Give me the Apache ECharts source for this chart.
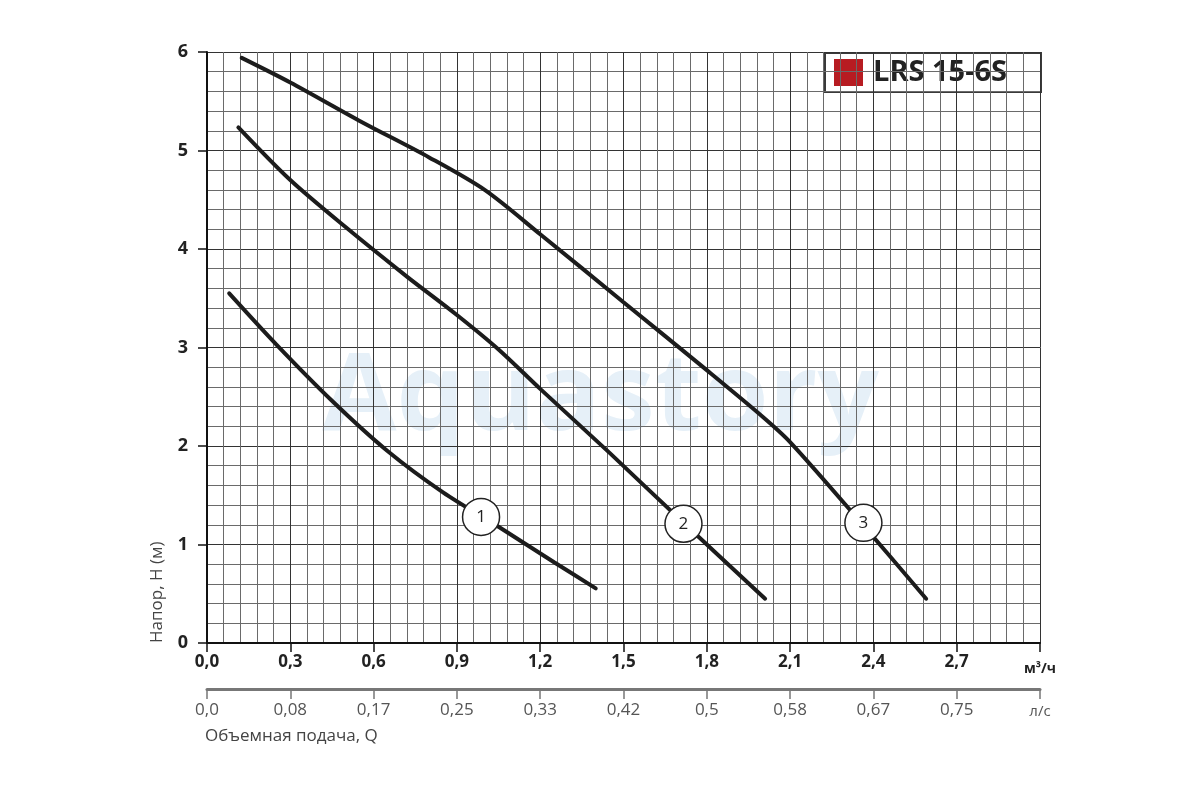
<!DOCTYPE html>
<html>
<head>
<meta charset="utf-8">
<title>LRS 15-6S</title>
<script src="https://cdn.jsdelivr.net/npm/echarts@6/dist/echarts.min.js"></script>
<style>
  html, body { margin: 0; padding: 0; background: #fff; }
  #chart { width: 1200px; height: 800px; }
</style>
</head>
<body>
<div id="chart"></div>
<script>
// pump curves, Q in m3/h, H in m
const curve1Q = [0.08, 0.25, 0.45, 0.65, 0.85, 1.05, 1.25, 1.4];
const curve1H = [3.55, 3.03, 2.46, 1.95, 1.53, 1.18, 0.82, 0.555];

const curve2Q = [0.113, 0.3, 0.5, 0.72, 0.9, 1.05, 1.2, 1.45, 1.72, 2.01];
const curve2H = [5.235, 4.7, 4.22, 3.72, 3.33, 2.98, 2.58, 1.93, 1.21, 0.45];

const curve3Q = [0.125, 0.3, 0.55, 0.8, 1.0, 1.2, 1.5, 1.8, 2.0, 2.1, 2.35, 2.59];
const curve3H = [5.94, 5.69, 5.3, 4.93, 4.6, 4.15, 3.46, 2.77, 2.3, 2.04, 1.24, 0.45];

// numbered circles on the curves
const markerQ = [0.987, 1.716, 2.364];
const markerH = [1.28, 1.21, 1.22];
const markerText = ['1', '2', '3'];

// tick labels
const flowLabels = ['0,0', '0,3', '0,6', '0,9', '1,2', '1,5', '1,8', '2,1', '2,4', '2,7'];
const litreLabels = ['0,0', '0,08', '0,17', '0,25', '0,33', '0,42', '0,5', '0,58', '0,67', '0,75'];
const flowUnit = 'м³/ч';
const litreUnit = 'л/с';

const chart = echarts.init(document.getElementById('chart'));

const zip = (qs, hs) => qs.map((q, i) => [q, hs[i]]);
const curveStyle = { color: '#1c1c1c', width: 4, cap: 'round' };

const lineSeries = (name, qs, hs) => ({
  name: name,
  type: 'line',
  smooth: 0.3,
  symbol: 'none',
  silent: true,
  z: 5,
  lineStyle: curveStyle,
  data: zip(qs, hs)
});

const option = {
  animation: false,
  textStyle: { fontFamily: 'Open Sans' },
  grid: { left: 207, top: 52, right: 160, bottom: 157 },
  graphic: [
    {
      type: 'text', z: -10, left: 322, top: 345,
      style: { text: 'Aquastory', font: 'bold 108px "Open Sans"', fill: '#e6f0f8' }
    },
    {
      type: 'group', left: 824, top: 52, z: 20,
      children: [
        { type: 'rect', shape: { x: 0, y: 0, width: 216, height: 39 },
          style: { fill: '#fff', stroke: '#3a3a3a', lineWidth: 2 } },
        { type: 'rect', shape: { x: 9, y: 6, width: 29, height: 27 },
          style: { fill: '#b71c22' } },
        { type: 'text', x: 48, y: 20,
          style: { text: 'LRS 15-6S', font: 'bold 29px "Open Sans"', fill: '#222', textVerticalAlign: 'middle' } }
      ]
    },
    {
      type: 'text', left: 205, top: 728,
      style: { text: 'Объемная подача, Q', font: '17px "Open Sans"', fill: '#444' }
    },
    {
      type: 'text', x: 149, y: 643, rotation: Math.PI / 2,
      style: { text: 'Напор, H (м)', font: '17px "Open Sans"', fill: '#444', textAlign: 'left', textVerticalAlign: 'top' }
    }
  ],
  xAxis: [
    {
      type: 'value', min: 0, max: 3, interval: 0.3,
      axisLine: { show: true, onZero: false, lineStyle: { color: '#111', width: 2 } },
      axisTick: { show: true, length: 9, lineStyle: { color: '#111', width: 1.5 } },
      axisLabel: {
        margin: 11,
        showMaxLabel: true,
        formatter: v => {
          const i = Math.round(v / 0.3);
          return i < flowLabels.length ? '{b|' + flowLabels[i] + '}' : '{u|' + flowUnit + '}';
        },
        rich: {
          b: { fontSize: 17, fontWeight: 'bold', color: '#222', fontFamily: 'Open Sans' },
          u: { fontSize: 14, fontWeight: 'bold', color: '#222', fontFamily: 'Open Sans', padding: [8, 0, 0, 0] }
        }
      },
      splitLine: { show: true, lineStyle: { color: '#333', width: 1 } },
      minorTick: { show: false, splitNumber: 5 },
      minorSplitLine: { show: true, lineStyle: { color: '#6a6a6a', width: 1 } }
    },
    {
      type: 'value', min: 0, max: 3, interval: 0.3,
      position: 'bottom', offset: 46,
      axisLine: { show: true, onZero: false, lineStyle: { color: '#777', width: 3 } },
      axisTick: { show: true, length: 10, lineStyle: { color: '#777', width: 1.5 } },
      axisLabel: {
        margin: 13,
        showMaxLabel: true,
        color: '#555', fontSize: 17,
        formatter: v => {
          const i = Math.round(v / 0.3);
          return i < litreLabels.length ? litreLabels[i] : '{u|' + litreUnit + '}';
        },
        rich: {
          u: { fontSize: 15, color: '#555', fontFamily: 'Open Sans', padding: [2, 0, 0, 0] }
        }
      },
      splitLine: { show: false }
    }
  ],
  yAxis: {
    type: 'value', min: 0, max: 6, interval: 1,
    axisLine: { show: true, onZero: false, lineStyle: { color: '#111', width: 2 } },
    axisTick: { show: true, length: 9, lineStyle: { color: '#111', width: 1.5 } },
    axisLabel: { margin: 19, fontSize: 18, fontWeight: 'bold', color: '#222' },
    splitLine: { show: true, lineStyle: { color: '#333', width: 1 } },
    minorTick: { show: false, splitNumber: 5 },
    minorSplitLine: { show: true, lineStyle: { color: '#6a6a6a', width: 1 } }
  },
  series: [
    lineSeries('1', curve1Q, curve1H),
    lineSeries('2', curve2Q, curve2H),
    lineSeries('3', curve3Q, curve3H),
    {
      type: 'scatter',
      symbol: 'circle',
      symbolSize: 37,
      silent: true,
      z: 10,
      itemStyle: { color: '#fff', borderColor: '#222', borderWidth: 1.5, opacity: 1 },
      label: {
        show: true, position: 'inside', fontSize: 17, color: '#222',
        formatter: p => markerText[p.dataIndex]
      },
      data: zip(markerQ, markerH)
    }
  ]
};

chart.setOption(option);
</script>
</body>
</html>
